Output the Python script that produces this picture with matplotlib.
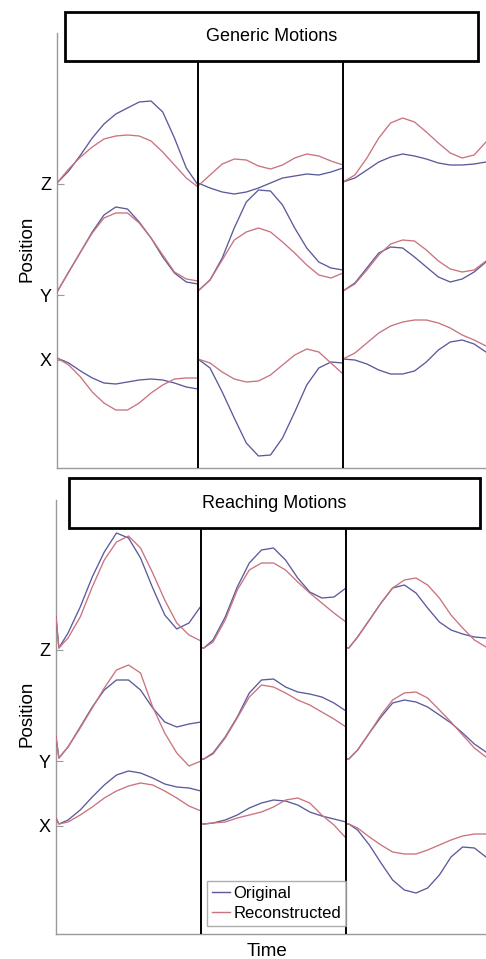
import numpy as np
import matplotlib
matplotlib.use("Agg")
import matplotlib.pyplot as plt
from matplotlib.patches import Rectangle
from matplotlib.lines import Line2D

plt.rcParams['font.family'] = ['Liberation Sans', 'DejaVu Sans']

# ---------------- data ----------------
CHANNELS = ["X", "Y", "Z"]
CHANNEL_TICKS = [108, 173, 284]
SERIES_NAMES = ["Original", "Reconstructed"]
PANEL_TITLES = ["Generic Motions", "Reaching Motions"]

# sample fractions within each motion segment
U_GEN = [0.0, 0.083, 0.167, 0.25, 0.333, 0.417, 0.5, 0.583, 0.667, 0.75, 0.833, 0.917, 1.0]
U_REACH = [0.0, 0.02, 0.083, 0.167, 0.25, 0.333, 0.417, 0.5, 0.583, 0.667, 0.75, 0.833, 0.917, 1.0]
GEN_DUR = [1.41, 1.45, 1.43]
REACH_DUR = [1.45, 1.45, 1.40]

# Generic motions (three segments per channel)
gen_Z_orig = [[285, 297, 313, 330, 344, 354, 360, 366, 367, 356, 330, 300, 283],
              [285, 280, 276, 274, 276, 280, 285, 290, 292, 294, 293, 296, 300],
              [286, 290, 298, 306, 311, 314, 312, 309, 305, 303, 303, 304, 306]]
gen_Z_rec = [[285, 299, 311, 321, 329, 332, 333, 332, 327, 316, 303, 290, 281],
             [282, 293, 304, 309, 308, 302, 299, 303, 310, 314, 312, 307, 303],
             [286, 293, 310, 330, 345, 350, 346, 336, 325, 315, 310, 313, 326]]
gen_Y_orig = [[176, 196, 216, 236, 253, 261, 259, 246, 230, 211, 195, 186, 184],
              [177, 188, 210, 240, 266, 278, 277, 263, 240, 220, 206, 200, 198],
              [177, 185, 200, 215, 221, 220, 211, 201, 191, 186, 189, 196, 206]]
gen_Y_rec = [[176, 196, 216, 235, 250, 255, 255, 245, 230, 213, 196, 189, 187],
             [177, 188, 208, 228, 236, 240, 236, 226, 215, 203, 193, 190, 195],
             [177, 184, 198, 213, 224, 228, 227, 218, 207, 199, 196, 198, 207]]
gen_X_orig = [[110, 105, 97, 90, 85, 84, 86, 88, 89, 88, 85, 81, 79],
              [109, 100, 76, 50, 25, 12, 13, 30, 56, 83, 100, 106, 105],
              [109, 108, 104, 98, 94, 94, 97, 106, 118, 126, 128, 124, 116]]
gen_X_rec = [[110, 103, 91, 76, 65, 58, 58, 65, 75, 83, 89, 90, 90],
             [109, 105, 96, 89, 86, 87, 93, 103, 113, 119, 116, 105, 94],
             [109, 115, 125, 135, 142, 146, 148, 148, 145, 140, 133, 128, 122]]

# Reaching motions
reach_Z_orig = [[317, 286, 301, 327, 357, 382, 401, 396, 376, 346, 319, 305, 311, 328],
                [286, 286, 294, 317, 347, 371, 384, 386, 374, 356, 342, 336, 337, 346],
                [286, 286, 297, 314, 331, 346, 349, 341, 326, 312, 304, 300, 297, 296]]
reach_Z_rec = [[317, 286, 296, 317, 347, 374, 392, 398, 386, 361, 334, 311, 299, 293],
               [286, 286, 292, 314, 344, 364, 371, 371, 364, 352, 341, 331, 321, 312],
               [286, 286, 297, 314, 331, 346, 354, 356, 349, 336, 319, 306, 294, 287]]
reach_Y_orig = [[197, 176, 187, 207, 227, 244, 254, 254, 244, 226, 212, 207, 210, 212],
                [175, 175, 181, 197, 217, 241, 254, 255, 247, 242, 240, 237, 231, 223],
                [175, 175, 184, 201, 217, 231, 234, 232, 227, 219, 211, 201, 190, 182]]
reach_Y_rec = [[197, 176, 187, 206, 226, 246, 264, 269, 261, 227, 201, 181, 168, 173],
               [175, 175, 180, 196, 216, 237, 249, 247, 241, 234, 229, 222, 215, 207],
               [175, 175, 184, 201, 219, 234, 241, 242, 236, 224, 212, 199, 186, 177]]
reach_X_orig = [[116, 110, 114, 124, 137, 149, 159, 163, 161, 156, 150, 147, 146, 143],
                [110, 110, 111, 114, 119, 126, 131, 134, 133, 129, 122, 118, 115, 112],
                [110, 110, 104, 89, 71, 54, 44, 41, 46, 59, 77, 87, 86, 77]]
reach_X_rec = [[116, 110, 112, 119, 127, 136, 143, 148, 151, 149, 143, 136, 128, 123],
               [110, 110, 111, 112, 116, 119, 122, 127, 134, 136, 131, 119, 109, 96],
               [110, 110, 106, 97, 89, 82, 80, 80, 84, 89, 94, 98, 100, 100]]

# ---------------- styling ----------------
W, H = 486, 959
DPI = 100
C_ORIG = "#5a5a9c"
C_REC = "#c9737e"
SPINE = "#9a9a9a"


def build_time(durs, u):
    t = []
    off = 0.0
    for d in durs:
        t.append(off + np.asarray(u) * d)
        off += d
    return np.concatenate(t)


fig = plt.figure(figsize=(W / DPI, H / DPI), dpi=DPI)

panels = [
    dict(title=PANEL_TITLES[0], u=U_GEN, durs=GEN_DUR,
         orig=[gen_X_orig, gen_Y_orig, gen_Z_orig], rec=[gen_X_rec, gen_Y_rec, gen_Z_rec],
         ax_px=(57, 33, 486, 468), box_px=(65, 12, 478, 61), ylab_y=249, ymax=435),
    dict(title=PANEL_TITLES[1], u=U_REACH, durs=REACH_DUR,
         orig=[reach_X_orig, reach_Y_orig, reach_Z_orig], rec=[reach_X_rec, reach_Y_rec, reach_Z_rec],
         ax_px=(56, 500, 486, 934), box_px=(69, 478, 480, 528), ylab_y=714, ymax=434),
]

axes = []
for p in panels:
    x0, y0, x1, y1 = p["ax_px"]
    ax = fig.add_axes([x0 / W, (H - y1) / H, (x1 - x0) / W, (y1 - y0) / H])
    axes.append(ax)
    t = build_time(p["durs"], p["u"])
    total = sum(p["durs"])
    for ch in range(3):
        yo = np.concatenate([np.asarray(s, float) for s in p["orig"][ch]])
        yr = np.concatenate([np.asarray(s, float) for s in p["rec"][ch]])
        ax.plot(t, yo, color=C_ORIG, lw=0.95, label=SERIES_NAMES[0] if ch == 0 else None,
                zorder=3, solid_joinstyle="round")
        ax.plot(t, yr, color=C_REC, lw=0.95, label=SERIES_NAMES[1] if ch == 0 else None,
                zorder=3, solid_joinstyle="round")
    ax.set_xlim(0, total)
    ax.set_ylim(0, p["ymax"])
    # separators between motions
    bx0, by0, bx1, by1 = p["box_px"]
    frac = (y1 - by1) / (y1 - y0)
    b = 0.0
    for d in p["durs"][:-1]:
        b += d
        ax.axvline(b, ymin=0, ymax=frac, color="black", lw=1.4, zorder=4)
    for s in ["top", "right"]:
        ax.spines[s].set_visible(False)
    for s in ["left", "bottom"]:
        ax.spines[s].set_color(SPINE)
        ax.spines[s].set_linewidth(1.0)
    ax.set_xticks([])
    ax.set_yticks(CHANNEL_TICKS)
    ax.set_yticklabels(CHANNELS, fontsize=13)
    ax.tick_params(axis="y", direction="in", length=5, color=SPINE, pad=4)
    # title box
    rect = Rectangle((bx0 / W, (H - by1) / H), (bx1 - bx0) / W, (by1 - by0) / H,
                     transform=fig.transFigure, facecolor="white", edgecolor="black",
                     lw=2.0, zorder=10)
    fig.patches.append(rect)
    fig.text((bx0 + bx1) / 2 / W, (H - (by0 + by1) / 2) / H, p["title"], ha="center",
             va="center", fontsize=13, zorder=11)
    fig.text(27 / W, (H - p["ylab_y"]) / H, "Position", rotation=90, ha="center",
             va="center", fontsize=13.5)

# legend in the lower panel
handles = [Line2D([], [], color=C_ORIG, lw=1.0), Line2D([], [], color=C_REC, lw=1.0)]
leg = axes[1].legend(handles, SERIES_NAMES, loc="lower left",
                     bbox_to_anchor=(207 / W, (H - 926) / H), bbox_transform=fig.transFigure,
                     fontsize=12, frameon=True, fancybox=False, edgecolor=SPINE,
                     handlelength=1.1, handletextpad=0.2, borderpad=0.3, labelspacing=0.3,
                     borderaxespad=0.0)
leg.get_frame().set_linewidth(1.0)
leg.set_zorder(12)

fig.text(267 / W, (H - 952) / H, "Time", ha="center", va="center", fontsize=13.5)

fig.savefig("out.png", dpi=DPI)
